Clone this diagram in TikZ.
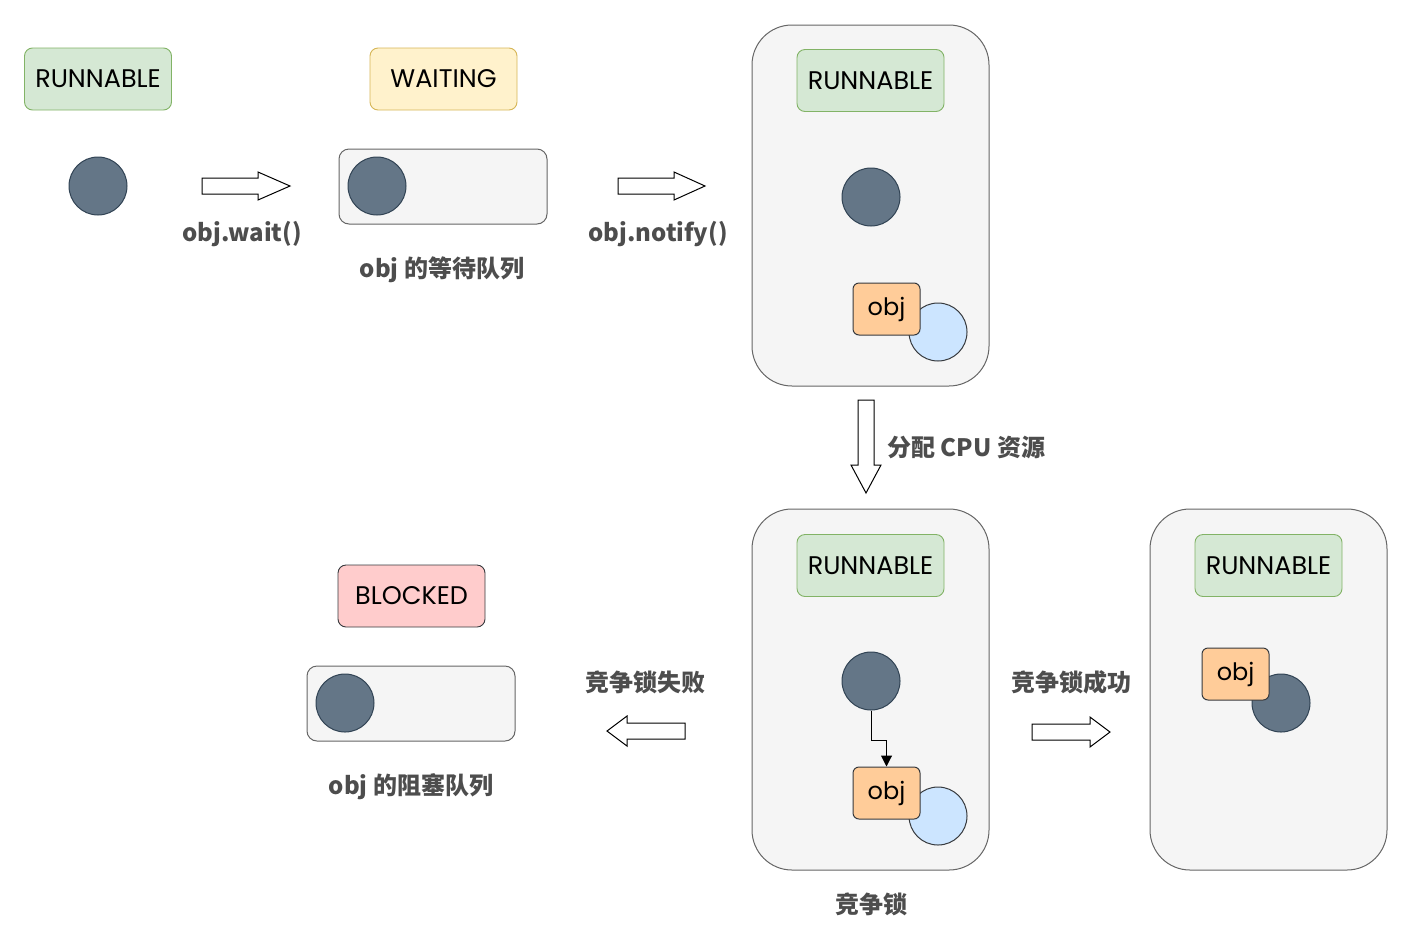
\documentclass[tikz,border=0pt]{standalone}
\usepackage{fontspec}
\usetikzlibrary{arrows.meta}
\newfontfamily\cjkfont{Noto Sans CJK SC}
\newfontfamily\boxfont{Poppins}
\definecolor{grnfill}{HTML}{D5E8D4}
\definecolor{grnline}{HTML}{82B366}
\definecolor{yelfill}{HTML}{FFF2CC}
\definecolor{yelline}{HTML}{D6B656}
\definecolor{redfill}{HTML}{FFCCCC}
\definecolor{darkline}{HTML}{36393D}
\definecolor{boxfill}{HTML}{F5F5F5}
\definecolor{boxline}{HTML}{666666}
\definecolor{dotfill}{HTML}{647687}
\definecolor{dotline}{HTML}{314354}
\definecolor{objfill}{HTML}{FFCC99}
\definecolor{bluefill}{HTML}{CCE5FF}
\definecolor{labelgray}{HTML}{4D4D4D}
\begin{document}
\begin{tikzpicture}[x=1pt,y=-1pt,
  statebox/.style={rectangle, rounded corners=8pt, minimum width=147pt, minimum height=62pt, line width=0.9pt, inner sep=0pt, font=\boxfont\fontsize{25.5}{28}\selectfont},
  runbox/.style={statebox, fill=grnfill, draw=grnline},
  container/.style={rectangle, rounded corners=40pt, minimum width=237pt, minimum height=361pt, fill=boxfill, draw=boxline, line width=1pt},
  queue/.style={rectangle, rounded corners=10pt, minimum width=208pt, minimum height=75pt, fill=boxfill, draw=boxline, line width=1pt},
  dot/.style={circle, minimum size=58pt, inner sep=0pt, fill=dotfill, draw=dotline, line width=1pt},
  bluedot/.style={circle, minimum size=58pt, inner sep=0pt, fill=bluefill, draw=darkline, line width=1pt},
  objbox/.style={rectangle, rounded corners=6pt, minimum width=67pt, minimum height=52pt, inner sep=0pt, fill=objfill, draw=darkline, line width=1pt, font=\boxfont\fontsize{24}{27}\selectfont},
  lbl/.style={font=\cjkfont\bfseries\fontsize{24}{27}\selectfont, text=labelgray, inner sep=0pt},
  blockarrow/.style={draw=black, fill=white, line width=1pt, line join=miter}
]
\useasboundingbox (0,0) rectangle (1407,943);

% top row
\node[runbox] (run1) at (98,79) {RUNNABLE};
\node[dot] (dot1) at (98,186) {};
\node[statebox, fill=yelfill, draw=yelline] (wait) at (443.5,79) {WAITING};
\node[queue] (wq) at (443,186.5) {};
\node[dot] (dot2) at (377,186) {};
\node[lbl] (lwait) at (242,234) {obj.wait()};
\node[lbl] (lwq) at (442,270) {obj 的等待队列};
\node[lbl] (lnotify) at (658,234) {obj.notify()};

% wait arrow
\draw[blockarrow] (202,178) -- (258,178) -- (258,172) -- (290,186) -- (258,200) -- (258,194) -- (202,194) -- cycle;
% notify arrow
\draw[blockarrow] (618,178) -- (674,178) -- (674,172) -- (705,186) -- (674,200) -- (674,194) -- (618,194) -- cycle;

% container 1
\node[container] (c1) at (870.5,205.5) {};
\node[runbox] (run2) at (870.5,80.5) {RUNNABLE};
\node[dot] (dot3) at (871,197) {};
\node[bluedot] (blue1) at (938,332) {};
\node[objbox] (obj1) at (886.5,309) {obj};

% down arrow
\draw[blockarrow] (858,400) -- (874,400) -- (874,465) -- (881,465) -- (866,493) -- (851,465) -- (858,465) -- cycle;
\node[lbl, anchor=west] (lcpu) at (887,447) {分配 CPU 资源};

% container 2
\node[container] (c2) at (870.5,689.5) {};
\node[runbox] (run3) at (870.5,565.5) {RUNNABLE};
\node[dot] (dot4) at (871,681) {};
\node[bluedot] (blue2) at (938,816) {};
\node[objbox] (obj2) at (886.5,793) {obj};
\draw[line width=1pt, -{Triangle[length=11pt,width=11pt]}] (dot4.south) -- ++(0,30) -| (obj2.north);
\node[lbl] (lcomp) at (871,904) {竞争锁};

% container 3
\node[container] (c3) at (1268.5,689.5) {};
\node[runbox] (run4) at (1268.5,565.5) {RUNNABLE};
\node[dot] (dot5) at (1281,703) {};
\node[objbox] (obj3) at (1235.5,674) {obj};
\node[lbl] (lsucc) at (1071,682) {竞争锁成功};
\draw[blockarrow] (1032,724) -- (1090,724) -- (1090,717) -- (1110,732) -- (1090,747) -- (1090,740) -- (1032,740) -- cycle;

% blocked side
\node[lbl] (lfail) at (645,682) {竞争锁失败};
\draw[blockarrow] (685,723) -- (627,723) -- (627,716) -- (607,731) -- (627,746) -- (627,739) -- (685,739) -- cycle;
\node[statebox, fill=redfill, draw=darkline] (blocked) at (411.5,596) {BLOCKED};
\node[queue] (bq) at (411,703.5) {};
\node[dot] (dot6) at (345,703) {};
\node[lbl] (lbq) at (411,787) {obj 的阻塞队列};
\end{tikzpicture}
\end{document}
